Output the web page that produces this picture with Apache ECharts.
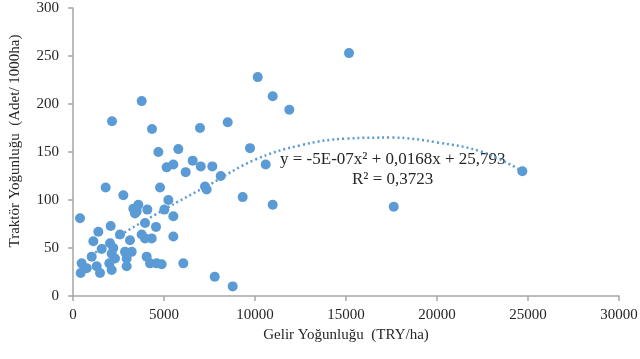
<!DOCTYPE html>
<html>
<head>
<meta charset="utf-8">
<script src="https://cdn.jsdelivr.net/npm/echarts@6/dist/echarts.min.js"></script>
<style>
  html, body { margin: 0; padding: 0; background: #fff; }
  #main { width: 640px; height: 359px; }
</style>
</head>
<body>
<div id="main"></div>
<script>
// gelir yogunlugu (TRY/ha)
const gelir = [385, 477, 423, 753, 1028, 1117, 1392, 1300, 1484, 1575,
  1795, 2070, 2033, 2216, 2125, 1997, 2125, 2308, 2583, 2766,
  2857, 2949, 2949, 3132, 3224, 3315, 3498, 3590, 3407, 3774,
  3957, 4085, 3957, 4323, 4048, 4231, 4598, 4873, 4561, 4690,
  4781, 5019, 5239, 5513, 5513, 5147, 5513, 5787, 6062, 6191,
  6576, 7020, 7654, 7254, 7345, 8116, 7786, 8775, 9325, 9726,
  10588, 10973, 17623, 24690, 2143, 3774, 4341, 6979, 8500, 10150,
  15166, 10973, 11886];
// traktor yogunlugu (adet/1000ha)
const traktor = [81, 34, 24, 29, 41, 57, 67, 31, 24, 49,
  113, 73, 55, 50, 44, 34, 27, 39, 64, 105,
  46, 39, 31, 58, 46, 91, 88, 95, 86, 64,
  76, 90, 60, 60, 41, 34, 34, 33, 72, 150,
  113, 90, 100, 83, 62, 134, 137, 153, 34, 129,
  141, 135, 135, 114, 111, 125, 20, 10, 103, 154,
  137, 95, 93, 130, 182, 203, 174, 175, 181, 228,
  253, 208, 194];

// trend line
const trendX = [385, 2000, 5000, 7500, 10000, 12500, 15000, 17500, 20000, 22500, 24690];
const trendY = [32, 56, 90, 116, 142, 157, 164, 165, 160, 150, 130];

const xTicks = [0, 5000, 10000, 15000, 20000, 25000, 30000];
const yTicks = [0, 50, 100, 150, 200, 250, 300];

const eqText = 'y = -5E-07x² + 0,0168x + 25,793';
const r2Text = 'R² = 0,3723';

const font = '"Liberation Serif", "Times New Roman", serif';
const axisCol = '#a6a6a6';
const txtCol = '#262626';
const blue = '#5b9bd5';

const points = gelir.map((g, i) => [g, traktor[i]]);
const trend = trendX.map((x, i) => [x, trendY[i]]);

const chart = echarts.init(document.getElementById('main'));
chart.setOption({
  animation: false,
  grid: { left: 73, right: 21, top: 8, bottom: 63, containLabel: false, outerBoundsMode: 'none' },
  xAxis: {
    type: 'value',
    min: xTicks[0],
    max: xTicks[xTicks.length - 1],
    interval: 5000,
    name: 'Gelir Yoğunluğu  (TRY/ha)',
    nameLocation: 'middle',
    nameGap: 32,
    nameTextStyle: { fontFamily: font, fontSize: 15, color: txtCol },
    splitLine: { show: false },
    axisLine: { lineStyle: { color: axisCol, width: 1.5 } },
    axisTick: { length: 5, lineStyle: { color: axisCol, width: 1.5 } },
    axisLabel: { fontFamily: font, fontSize: 15, color: txtCol, margin: 12, formatter: v => String(v) }
  },
  yAxis: {
    type: 'value',
    min: yTicks[0],
    max: yTicks[yTicks.length - 1],
    interval: 50,
    name: 'Traktör Yoğunluğu  (Adet/ 1000ha)',
    nameLocation: 'middle',
    nameGap: 50,
    nameTextStyle: { fontFamily: font, fontSize: 15, color: txtCol, padding: [0, 0, 0, 22] },
    splitLine: { show: false },
    axisLine: { show: true, lineStyle: { color: axisCol, width: 1.5 } },
    axisTick: { show: true, length: 5, lineStyle: { color: axisCol, width: 1.5 } },
    axisLabel: { fontFamily: font, fontSize: 15, color: txtCol, margin: 14 }
  },
  series: [
    {
      type: 'scatter',
      data: points,
      symbolSize: 10,
      itemStyle: { color: blue, opacity: 1 }
    },
    {
      type: 'line',
      data: trend,
      smooth: 0.4,
      showSymbol: false,
      lineStyle: { color: blue, width: 2.5, type: [2, 3] },
      z: 3
    }
  ],
  graphic: [
    {
      type: 'text', left: 280, top: 151,
      style: { text: eqText, font: '17px ' + font, fill: txtCol }
    },
    {
      type: 'text', left: 352, top: 171,
      style: { text: r2Text, font: '17px ' + font, fill: txtCol }
    }
  ]
});
</script>
</body>
</html>
